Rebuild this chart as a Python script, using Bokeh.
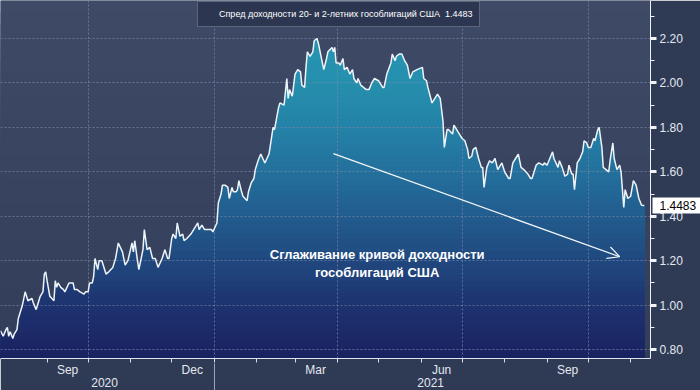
import numpy as np
import pandas as pd
from bokeh.plotting import figure
from bokeh.models import (Range1d, FixedTicker, DatetimeAxis, LinearAxis, DatetimeTickFormatter,
                          NumeralTickFormatter, Label, Arrow, OpenHead, Legend, LegendItem)
from bokeh.embed import file_html
from bokeh.resources import INLINE

# ---------------- data ----------------
start_date = "2020-07-29"
day_offsets = [0, 2, 4, 5, 6, 7, 9, 10, 12, 13, 16, 18, 20, 23, 24, 26, 27, 29, 31, 32, 33, 34, 36, 39, 40,
               41, 42, 44, 46, 47, 50, 53, 54, 56, 58, 61, 62, 64, 65, 67, 68, 69, 71, 72, 74, 77, 79, 82, 84,
               86, 89, 91, 93, 96, 97, 98, 100, 101, 104, 105, 107, 109, 111, 113, 115, 118, 120, 122, 123,
               125, 126, 128, 129, 130, 131, 133, 134, 136, 139, 141, 144, 145, 147, 149, 151, 153, 154, 155,
               158, 159, 161, 162, 164, 166, 167, 169, 170, 172, 173, 174, 176, 177, 180, 181, 183, 185, 186,
               188, 190, 193, 196, 199, 200, 203, 204, 207, 209, 210, 211, 213, 215, 217, 219, 220, 222, 223,
               224, 226, 228, 229, 231, 232, 234, 236, 238, 239, 242, 243, 244, 245, 247, 248, 250, 251, 253,
               255, 257, 258, 260, 261, 263, 265, 267, 269, 271, 273, 276, 279, 280, 282, 285, 286, 288, 289,
               291, 293, 295, 297, 299, 301, 304, 308, 309, 311, 312, 315, 318, 319, 321, 323, 324, 326, 327,
               330, 331, 334, 335, 337, 339, 341, 342, 344, 345, 347, 349, 351, 352, 353, 355, 357, 359, 361,
               363, 364, 366, 368, 371, 372, 374, 376, 378, 380, 382, 385, 387, 388, 391, 393, 396, 397, 399,
               401, 403, 404, 407, 408, 410, 412, 414, 415, 417, 418, 419, 421, 423, 425, 426, 428, 429, 431,
               433, 434, 436, 437, 439, 440, 442, 444, 445, 447, 448, 450, 452, 453, 455, 456, 458, 460, 462,
               464, 466, 468, 470]
spread = [0.885, 0.86, 0.89, 0.90, 0.86, 0.88, 0.85, 0.87, 0.89, 0.94, 1.00, 1.06, 1.02, 1.03, 1.01, 0.98,
          1.00, 1.04, 1.06, 1.14, 1.15, 1.11, 1.04, 1.02, 1.11, 1.08, 1.10, 1.08, 1.07, 1.06, 1.10, 1.10,
          1.07, 1.07, 1.06, 1.05, 1.06, 1.06, 1.10, 1.10, 1.13, 1.21, 1.16, 1.20, 1.20, 1.14, 1.15, 1.17,
          1.21, 1.28, 1.24, 1.18, 1.20, 1.28, 1.24, 1.29, 1.20, 1.16, 1.25, 1.34, 1.25, 1.26, 1.21, 1.21,
          1.17, 1.21, 1.25, 1.21, 1.21, 1.30, 1.32, 1.30, 1.37, 1.34, 1.31, 1.32, 1.29, 1.30, 1.32, 1.34,
          1.37, 1.34, 1.36, 1.34, 1.34, 1.34, 1.34, 1.33, 1.37, 1.46, 1.50, 1.54, 1.54, 1.53, 1.48, 1.53,
          1.51, 1.51, 1.52, 1.56, 1.51, 1.49, 1.47, 1.51, 1.55, 1.57, 1.61, 1.65, 1.68, 1.64, 1.68, 1.80,
          1.79, 1.89, 1.91, 1.90, 2.02, 1.93, 1.97, 1.94, 2.04, 2.06, 2.05, 1.99, 1.98, 2.07, 2.14, 2.12,
          2.14, 2.19, 2.20, 2.18, 2.12, 2.06, 2.11, 2.14, 2.16, 2.14, 2.16, 2.09, 2.09, 2.08, 2.11, 2.06,
          2.07, 2.04, 2.06, 2.02, 2.00, 2.02, 1.99, 1.98, 1.97, 1.97, 2.00, 2.02, 2.01, 1.98, 1.98, 2.04,
          2.09, 2.13, 2.10, 2.12, 2.13, 2.13, 2.10, 2.08, 2.02, 2.05, 2.06, 2.07, 2.02, 2.01, 1.98, 1.91,
          1.94, 1.95, 1.93, 1.83, 1.71, 1.79, 1.79, 1.77, 1.81, 1.78, 1.77, 1.75, 1.74, 1.70, 1.66, 1.67,
          1.70, 1.71, 1.66, 1.62, 1.62, 1.53, 1.62, 1.65, 1.64, 1.66, 1.61, 1.62, 1.64, 1.60, 1.57, 1.57,
          1.64, 1.66, 1.68, 1.62, 1.61, 1.59, 1.57, 1.57, 1.63, 1.64, 1.63, 1.64, 1.63, 1.66, 1.69, 1.66,
          1.62, 1.65, 1.62, 1.58, 1.59, 1.63, 1.59, 1.59, 1.52, 1.64, 1.66, 1.69, 1.74, 1.73, 1.71, 1.71,
          1.75, 1.74, 1.79, 1.80, 1.71, 1.62, 1.61, 1.60, 1.65, 1.73, 1.66, 1.61, 1.63, 1.60, 1.44, 1.52,
          1.48, 1.49, 1.56, 1.54, 1.48, 1.45, 1.4483]
last_value = 1.4483
series_label = "Спред доходности 20- и 2-летних гособлигаций США  1.4483"

y_ticks = [0.8, 1.0, 1.2, 1.4, 1.6, 1.8, 2.0, 2.2]
y_minor_ticks = [0.9, 1.1, 1.3, 1.5, 1.7, 1.9, 2.1, 2.3]
month_starts = ["2020-09-01", "2020-10-01", "2020-11-01", "2020-12-01", "2021-01-01", "2021-02-01",
                "2021-03-01", "2021-04-01", "2021-05-01", "2021-06-01", "2021-07-01", "2021-08-01",
                "2021-09-01", "2021-10-01", "2021-11-01"]
month_label_dates = ["2020-09-16", "2020-12-16", "2021-03-16", "2021-06-16", "2021-09-16"]
quarter_starts = ["2020-10-01", "2021-01-01", "2021-04-01", "2021-07-01", "2021-10-01"]
year_label_dates = ["2020-10-13", "2021-06-08"]
year_break = ["2021-01-01"]
x_limits = ["2020-07-29", "2021-11-15 12:00"]
y_limits = [0.76, 2.371]

note_text = "Сглаживание кривой доходности\nгособлигаций США"
note_at = ("2021-04-30", 1.186)
arrow_from = ("2021-03-29", 1.682)
arrow_to = ("2021-10-24", 1.218)


def ms(d):
    return pd.Timestamp(d).value / 1e6


def hexmix(stops, v):
    ys = [s[0] for s in stops]
    cols = np.array([[int(s[1][i:i + 2], 16) for i in (1, 3, 5)] for s in stops], dtype=float)
    rgb = [np.interp(v, ys, cols[:, k]) for k in range(3)]
    return "#%02x%02x%02x" % tuple(int(round(c)) for c in rgb)


dates = pd.Timestamp(start_date) + pd.to_timedelta(day_offsets, unit="D")
vals = np.array(spread)

FONT = "Liberation Sans"
TXT = "#e4e8ef"
X_END = ms(x_limits[1])

p = figure(width=700, height=390, x_axis_type="datetime", y_axis_location="right",
           output_backend="svg", toolbar_location=None,
           x_range=Range1d(ms(x_limits[0]), X_END),
           y_range=Range1d(y_limits[0], y_limits[1]),
           min_border_left=0, min_border_top=0, min_border_right=50, min_border_bottom=32)
p.background_fill_color = "#37425e"
p.border_fill_color = "#2f3a55"
p.outline_line_color = None

# background gradient (strips, top colour first, overlapping)
bg_stops = [(0.76, "#323d59"), (2.371, "#3f4a67")]
nb = 30
edges = np.linspace(y_limits[0], y_limits[1], nb + 1)
for k in range(nb, 0, -1):
    c = hexmix(bg_stops, (edges[k - 1] + edges[k]) / 2)
    p.hstrip(y0=[y_limits[0]], y1=[edges[k]], fill_color=c, line_color=None, level="image")

# area gradient
area_stops = [(0.76, "#1a2260"), (1.0, "#1d3370"), (1.2, "#20487f"), (1.4, "#225c8e"),
              (1.6, "#23709c"), (1.8, "#2482a7"), (2.0, "#258fae"), (2.371, "#279bb5")]
na = 60
edges = np.linspace(y_limits[0], y_limits[1], na + 1)
for k in range(na, 0, -1):
    c = hexmix(area_stops, (edges[k - 1] + edges[k]) / 2)
    p.varea(x=dates, y1=np.full(len(vals), y_limits[0]), y2=np.minimum(vals, edges[k]),
            fill_color=c, level="image")

line_r = p.line(dates, vals, line_color="#eef3f8", line_width=1.5)

# grids
p.xgrid.ticker = FixedTicker(ticks=[ms(d) for d in quarter_starts])
p.ygrid.ticker = FixedTicker(ticks=y_ticks)
p.grid.grid_line_color = "#7a88a6"
p.grid.grid_line_alpha = 0.7
p.grid.grid_line_dash = "2 2"
p.grid.grid_line_width = 1

# month axis
xa = p.xaxis[0]
xa.ticker = FixedTicker(ticks=[ms(d) for d in month_label_dates],
                        minor_ticks=[ms(d) for d in month_starts])
xa.formatter = DatetimeTickFormatter(days="%b", months="%b", years="%b", hours="%b",
                                     minutes="%b", seconds="%b", milliseconds="%b")
xa.major_tick_line_color = None
xa.major_tick_out = 0
xa.major_tick_in = 0
xa.minor_tick_line_color = "#d8dde8"
xa.minor_tick_out = 4
xa.minor_tick_in = 0
xa.axis_line_color = "#e0e4ec"
xa.major_label_standoff = 0
xa.major_label_text_color = TXT
xa.major_label_text_font = FONT
xa.major_label_text_font_size = "12px"

# year axis (separator = minor tick reaching up through the month row)
ya_year = DatetimeAxis(ticker=FixedTicker(ticks=[ms(d) for d in year_label_dates],
                                          minor_ticks=[ms(d) for d in year_break]),
                       formatter=DatetimeTickFormatter(days="%Y", months="%Y", years="%Y"))
ya_year.axis_line_color = None
ya_year.major_tick_line_color = None
ya_year.major_tick_out = 0
ya_year.major_tick_in = 0
ya_year.minor_tick_line_color = "#9aa3b8"
ya_year.minor_tick_out = 15
ya_year.minor_tick_in = 16
ya_year.major_label_standoff = -17
ya_year.major_label_text_color = TXT
ya_year.major_label_text_font = FONT
ya_year.major_label_text_font_size = "12px"
p.add_layout(ya_year, "below")

# right value axis
ra = p.yaxis[0]
ra.ticker = FixedTicker(ticks=y_ticks, minor_ticks=y_minor_ticks)
ra.formatter = NumeralTickFormatter(format="0.00")
ra.axis_line_color = "#f0f2f6"
ra.major_tick_line_color = "#f0f2f6"
ra.major_tick_line_width = 3
ra.major_tick_out = 6
ra.major_tick_in = 0
ra.minor_tick_line_color = "#f0f2f6"
ra.minor_tick_out = 4
ra.minor_tick_in = 0
ra.major_label_standoff = 3
ra.major_label_text_color = TXT
ra.major_label_text_font = FONT
ra.major_label_text_font_size = "12px"

# last value tag: outer axis whose thick tick reaches back to the frame edge
tag = LinearAxis(ticker=FixedTicker(ticks=[last_value], minor_ticks=[]),
                 formatter=NumeralTickFormatter(format="0.0000"))
tag.axis_line_color = None
tag.major_tick_line_color = "white"
tag.major_tick_line_width = 16
tag.major_tick_in = 33
tag.major_tick_out = 18
tag.minor_tick_line_color = None
tag.minor_tick_out = 0
tag.minor_tick_in = 0
tag.major_label_standoff = -44
tag.major_label_text_color = "black"
tag.major_label_text_font = FONT
tag.major_label_text_font_size = "12px"
p.add_layout(tag, "right")

# annotation
p.add_layout(Arrow(x_start=ms(arrow_from[0]), y_start=arrow_from[1],
                   x_end=ms(arrow_to[0]), y_end=arrow_to[1],
                   line_color="#f4f6fa", line_width=1.2,
                   end=OpenHead(size=12, line_color="#f4f6fa", line_width=1.2)))
p.add_layout(Label(x=ms(note_at[0]), y=note_at[1], text=note_text, text_align="center",
                   text_baseline="middle", text_color="white", text_font=FONT,
                   text_font_style="bold", text_font_size="13px"))

# legend
dummy = p.scatter(x=[], y=[], marker="square", size=10, fill_color="white", line_color="white")
leg = Legend(items=[LegendItem(label=series_label, renderers=[dummy])], location=(197, 331))
leg.background_fill_color = "#2c3650"
leg.background_fill_alpha = 1
leg.border_line_color = "#8b93a8"
leg.border_line_width = 1
leg.label_text_color = "white"
leg.label_text_font = FONT
leg.label_text_font_size = "9px"
leg.glyph_width = 10
leg.glyph_height = 10
leg.padding = 6
leg.margin = 0
leg.label_standoff = 5
leg.label_height = 12
p.add_layout(leg, "center")

open("out.html", "w").write(file_html(p, INLINE))
